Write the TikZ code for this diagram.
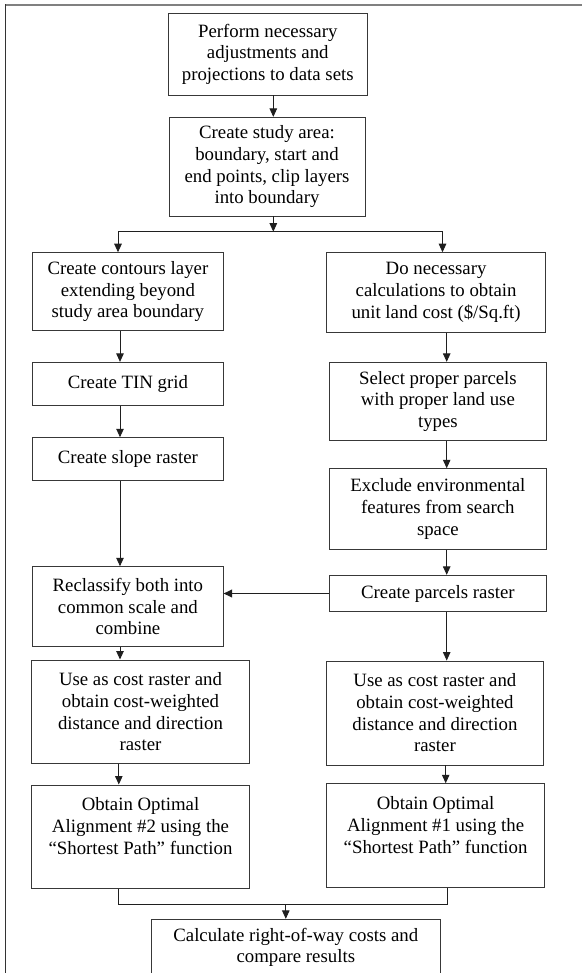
\documentclass[tikz,border=0pt]{standalone}
\usepackage{fontspec}
\setmainfont{Liberation Serif}
\usetikzlibrary{arrows.meta}
\begin{document}
\begin{tikzpicture}[x=1pt,y=-1pt,
  box/.style={draw=black!78, line width=0.9pt, align=center, inner sep=0pt,
    font=\fontsize{18.8}{21.7}\selectfont},
  arr/.style={draw=black!88, line width=0.9pt, -{Triangle[length=8.5pt,width=7.5pt]}},
  ln/.style={draw=black!88, line width=0.9pt}]
\fill[white] (0,0) rectangle (582,973);
\clip (0,0) rectangle (582,973);
% frame
\draw[draw=black!50, line width=1.8pt] (5,5) -- (582,5);
\draw[draw=black!80, line width=1.3pt] (5.2,973) -- (5.2,4.2);

% boxes
\node[box, minimum width=198.5pt, minimum height=81.7pt] (perf) at (267.75,54.2)
  {Perform necessary\\adjustments and\\projections to data sets};
\node[box, minimum width=196pt, minimum height=98.7pt] (study) at (267,166.7)
  {Create study area:\\boundary, start and\\end points, clip layers\\into boundary};
\node[box, minimum width=190.3pt, minimum height=78pt] (contours) at (127.9,291.7)
  {Create contours layer\\extending beyond\\study area boundary};
\node[box, minimum width=219pt, minimum height=79.6pt] (docalc) at (436.1,292.5)
  {Do necessary\\calculations to obtain\\unit land cost (\$/Sq.ft)};
\node[box, minimum width=190.3pt, minimum height=42.7pt] (tin) at (127.9,383.7)
  {Create TIN grid};
\node[box, minimum width=190.3pt, minimum height=42.6pt] (slope) at (127.9,459)
  {Create slope raster};
\node[box, minimum width=190.3pt, minimum height=80pt] (reclass) at (127.9,606.7)
  {Reclassify both into\\common scale and\\combine};
\node[box, minimum width=217.8pt, minimum height=78.4pt] (select) at (437.9,401.5)
  {Select proper parcels\\with proper land use\\types};
\node[box, minimum width=217.8pt, minimum height=80.6pt] (exclude) at (437.9,509)
  {Exclude environmental\\features from search\\space};
\node[box, minimum width=217.8pt, minimum height=36.4pt] (parcels) at (437.9,593.5)
  {Create parcels raster};
\node[box, minimum width=217.8pt, minimum height=103.7pt] (useL) at (140.5,711.8)
  {Use as cost raster and\\obtain cost-weighted\\distance and direction\\raster};
\node[box, minimum width=217.8pt, minimum height=103.7pt] (obtL) at (140.5,836.8)
  {Obtain Optimal\\Alignment \#2 using the\\“Shortest Path” function\\\mbox{}};
\node[box, minimum width=217.8pt, minimum height=104pt] (useR) at (434.9,713)
  {Use as cost raster and\\obtain cost-weighted\\distance and direction\\raster};
\node[box, minimum width=217.8pt, minimum height=104pt] (obtR) at (435.6,835.7)
  {Obtain Optimal\\Alignment \#1 using the\\“Shortest Path” function\\\mbox{}};
\node[box, minimum width=289.6pt, minimum height=56.4pt] (final) at (295.8,947.5)
  {Calculate right-of-way costs and\\compare results};

% helper coordinates
\coordinate (xT) at (273.3,0);
\coordinate (xL) at (120,0);
\coordinate (xR) at (446.7,0);
\coordinate (j1) at (273.3,231.7);
\coordinate (bl) at (118,231.7);
\coordinate (br) at (442.5,231.7);
\coordinate (ml) at (118.8,904);
\coordinate (mr) at (447.7,904);
\coordinate (mj) at (285.8,904);

% connectors
\draw[arr] (perf.south -| xT) -- (xT |- study.north);
\draw[arr] (study.south -| xT) -- (j1);
\draw[ln] (bl) -- (br);
\draw[arr] (bl) -- (bl |- contours.north);
\draw[arr] (br) -- (br |- docalc.north);

\draw[arr] (contours.south -| xL) -- (xL |- tin.north);
\draw[arr] (tin.south -| xL) -- (xL |- slope.north);
\draw[arr] (slope.south -| xL) -- (xL |- reclass.north);
\draw[arr] (reclass.south -| xL) -- (xL |- useL.north);
\draw[arr] (useL.south -| ml) -- (ml |- obtL.north);

\draw[arr] (docalc.south -| xR) -- (xR |- select.north);
\draw[arr] (select.south -| xR) -- (xR |- exclude.north);
\draw[arr] (exclude.south -| xR) -- (xR |- parcels.north);
\draw[arr] (parcels.south -| xR) -- (xR |- useR.north);
\draw[arr] ([xshift=-1pt]useR.south -| xR) -- ([xshift=-1pt]xR |- obtR.north);

\draw[arr, line width=1.8pt] (parcels.west) -- (reclass.east |- parcels.west);

\draw[ln] (obtL.south -| ml) -- (ml) -- (mr) -- (obtR.south -| mr);
\draw[arr] (mj) -- (mj |- final.north);
\end{tikzpicture}
\end{document}
